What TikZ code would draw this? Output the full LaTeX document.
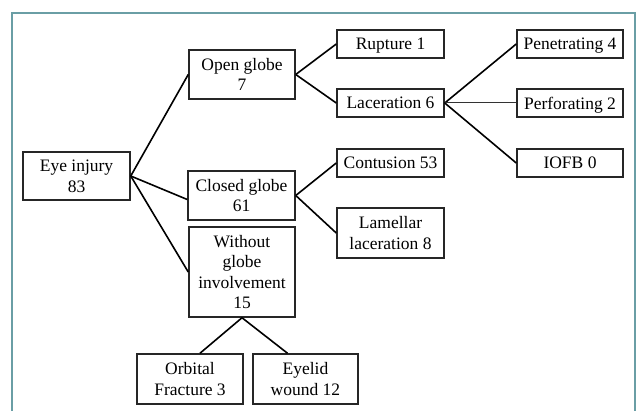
\documentclass[tikz,border=0pt]{standalone}
\usepackage{fontspec}
\setmainfont{Liberation Serif}
\definecolor{framecol}{HTML}{6A9EA5}
\begin{document}
\begin{tikzpicture}[x=1pt,y=-1pt,
  box/.style={draw=black!85, line width=1.5pt, inner sep=0pt, align=center,
    font=\fontsize{17.5}{20.5}\selectfont, text depth=0pt},
  link/.style={draw=black, line width=1.6pt},
  thinlink/.style={draw=black!80, line width=1pt}]
\useasboundingbox (0,0) rectangle (639,411);
\draw[framecol, line width=1.8pt] (12,413) -- (12,13) -- (635,13) -- (635,413);
\node[box, minimum width=107pt, minimum height=48pt] (eye) at (76.5,176) {Eye injury\\83};
\node[box, minimum width=106pt, minimum height=49pt] (open) at (242,74.5) {Open globe\\7};
\node[box, minimum width=107pt, minimum height=49pt] (closed) at (241.5,195.5) {Closed globe\\61};
\node[box, minimum width=106pt, minimum height=90pt] (without) at (242,272) {Without\\globe\\involvement\\15};
\node[box, minimum width=106pt, minimum height=50pt] (orb) at (190,379) {Orbital\\Fracture 3};
\node[box, minimum width=105pt, minimum height=50pt] (eyelid) at (305.5,379) {Eyelid\\wound 12};
\node[box, minimum width=107pt, minimum height=28pt] (rup) at (390.5,44) {Rupture 1};
\node[box, minimum width=107pt, minimum height=28pt] (lac) at (390.5,103) {Laceration 6};
\node[box, minimum width=107pt, minimum height=28pt] (cont) at (390.5,163) {Contusion 53};
\node[box, minimum width=107pt, minimum height=50pt] (lam) at (390.5,233) {Lamellar\\laceration 8};
\node[box, minimum width=106pt, minimum height=28pt] (pen) at (570,44) {Penetrating 4};
\node[box, minimum width=106pt, minimum height=28pt] (perf) at (570,103) {Perforating 2};
\node[box, minimum width=106pt, minimum height=28pt] (iofb) at (570,163) {IOFB 0};
\draw[link] (eye.east) -- (open.west);
\draw[link] (eye.east) -- ([yshift=-4pt]closed.west);
\draw[link] (eye.east) -- (without.west);
\draw[link] (open.east) -- (rup.west);
\draw[link] (open.east) -- (lac.west);
\draw[link] (closed.east) -- (cont.west);
\draw[link] (closed.east) -- (lam.west);
\draw[link] (lac.east) -- (pen.west);
\draw[thinlink] (lac.east) -- (perf.west);
\draw[link] (lac.east) -- (iofb.west);
\draw[link] (without.south) -- ([xshift=10pt]orb.north);
\draw[link] (without.south) -- ([xshift=-18pt]eyelid.north);
\end{tikzpicture}
\end{document}
